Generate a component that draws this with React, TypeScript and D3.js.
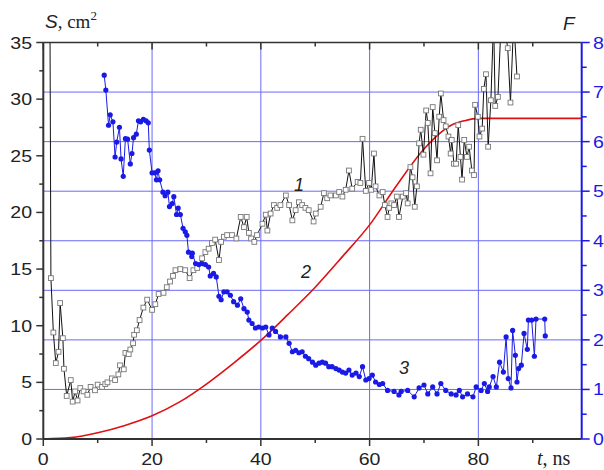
import * as d3 from "d3";

// curve 1: S (cm^2), open squares
const t1 = [
  1.2, 1.4, 1.85, 2.3, 2.8, 3.1, 3.6, 3.8, 4.3, 5.05, 5.4, 5.85, 6.3, 6.8, 7.4, 8.1, 8.7, 9.5, 10.0, 10.8,
  11.4, 11.8, 12.6, 13.2, 13.8, 14.1, 14.8, 15.1, 15.7, 16.0, 16.5, 16.7, 17.2, 17.7, 18.4, 19.1, 20.0, 20.6,
  21.2, 22.1, 22.7, 23.3, 23.85, 24.3, 25.2, 26.1, 26.9, 27.6, 28.3, 29.2, 29.8, 30.4, 31.0, 31.6, 32.3, 32.7,
  33.2, 33.8, 34.7, 35.5, 36.3, 36.9, 37.4, 37.8, 38.2, 38.8, 39.3, 40.3, 40.9, 41.2, 41.8, 42.4, 43.0, 43.6,
  44.6, 45.2, 45.8, 46.4, 47.0, 47.6, 48.2, 48.8, 49.7, 50.1, 51.0, 51.6, 52.2, 52.8, 53.8, 54.4, 55.0, 55.6,
  56.2, 56.8, 57.8, 58.3, 58.7, 59.3, 59.9, 60.3, 60.8, 61.1, 61.8, 62.4, 62.8, 63.3, 63.6, 64.0, 64.5, 65.0,
  65.4, 66.1, 66.7, 67.0, 67.5, 67.9, 68.3, 68.7, 69.1, 69.4, 69.9, 70.4, 70.7, 71.2, 71.6, 72.0, 72.4, 72.8,
  73.1, 73.6, 74.0, 74.5, 74.9, 75.1, 75.5, 75.9, 76.3, 76.7, 77.0, 77.4, 77.9, 78.3, 78.8, 79.2, 79.4, 79.9,
  80.2, 80.7, 81.0, 81.4, 81.8, 82.3, 82.8, 83.1, 83.6, 84.2, 84.8, 85.4, 85.9, 86.5, 87.1,
];
const s1 = [
  40, 14.2, 9.4, 6.7, 7.7, 12.0, 8.9, 6.2, 3.8, 5.2, 3.3, 4.2, 3.4, 4.5, 4.2, 3.9, 4.6, 4.3, 4.8, 4.6,
  4.85, 5.0, 5.35, 5.2, 5.7, 6.5, 6.15, 7.6, 7.5, 7.9, 8.45, 9.2, 9.6, 10.5, 11.6, 12.3, 11.4, 11.9,
  12.8, 12.9, 13.4, 13.9, 14.4, 14.9, 15.0, 14.9, 14.2, 14.9, 15.1, 15.95, 16.5, 16.8, 17.3, 17.6, 15.8, 17.4,
  17.85, 18.0, 18.0, 17.7, 19.6, 18.7, 19.6, 18.2, 17.7, 17.4, 18.0, 19.0, 19.8, 18.4, 19.9, 20.65, 20.4, 20.65,
  21.5, 20.65, 19.3, 20.2, 20.9, 20.65, 20.4, 20.2, 19.2, 19.9, 20.5, 21.7, 21.25, 21.5, 21.5, 21.8, 21.4, 22.0,
  23.7, 22.1, 22.7, 22.6, 26.5, 21.9, 22.6, 22.0, 25.2, 22.3, 21.5, 21.8, 20.65, 19.6, 20.4, 20.8, 20.65, 21.4,
  19.6, 21.4, 21.7, 20.8, 24.0, 23.1, 20.5, 22.3, 26.1, 27.3, 25.1, 29.0, 27.9, 23.45, 29.3, 27.0, 24.6, 28.45,
  30.5, 28.15, 27.6, 26.7, 25.2, 26.4, 24.3, 24.3, 27.7, 24.9, 22.9, 26.4, 24.9, 25.8, 23.7, 23.3, 29.5, 28.45,
  26.7, 27.4, 30.9, 32.2, 25.8, 29.9, 37, 29.4, 30.2, 37, 36.5, 34.5, 29.7, 37, 32.0,
];

// curve 2: S (cm^2), smooth red line
const t2 = [0, 5, 10, 15, 20, 25, 30, 35, 40, 45, 50, 55, 60, 65, 70, 75, 77.5, 80, 85, 90, 95, 99];
const s2 = [0, 0.12, 0.55, 1.2, 2.05, 3.25, 4.85, 6.7, 8.7, 11.0, 13.4, 16.1, 18.9, 22.4, 25.6, 27.7, 28.1, 28.3, 28.3, 28.3, 28.3, 28.3];

// curve 3: F, filled blue circles
const t3 = [
  11.2, 11.5, 12.0, 12.3, 12.8, 13.2, 13.5, 14.0, 14.3, 14.7, 15.1, 15.5, 16.0, 16.3, 16.6, 17.1, 17.5, 17.9,
  18.4, 18.9, 19.3, 19.5, 20.0, 20.5, 20.8, 21.1, 21.4, 22.0, 22.4, 22.9, 23.2, 23.7, 24.0, 24.5, 24.8, 25.2,
  25.7, 26.1, 26.4, 26.7, 27.3, 27.4, 28.0, 28.6, 29.2, 29.8, 30.4, 30.7, 31.3, 31.8, 32.3, 32.7, 33.2, 33.8,
  34.4, 35.0, 35.7, 36.3, 36.9, 37.5, 37.8, 38.4, 39.0, 39.6, 40.3, 40.9, 41.5, 42.1, 42.7, 43.6, 44.6, 45.2,
  45.8, 46.4, 47.0, 47.6, 48.2, 48.8, 49.5, 50.1, 50.7, 51.3, 51.9, 52.5, 53.1, 53.8, 54.4, 55.0, 55.6, 56.2,
  56.8, 57.5, 58.1, 58.7, 59.3, 59.9, 60.5, 61.1, 61.8, 62.4, 63.3, 64.5, 65.4, 65.8, 67.0, 68.2, 69.1, 70.0,
  70.7, 71.6, 72.4, 73.1, 74.0, 75.0, 75.9, 76.5, 77.1, 78.0, 79.0, 79.6, 80.5, 81.1, 81.7, 82.0, 82.7, 83.3,
  83.9, 84.6, 85.1, 85.5, 86.0, 86.3, 86.8, 87.1, 87.4, 87.9, 88.4, 89.0, 89.2, 89.8, 90.3, 90.6, 92.2, 92.3,
];
const f3 = [
  7.34, 7.04, 6.33, 6.54, 6.40, 5.69, 5.99, 6.29, 5.65, 5.30, 6.06, 6.05, 5.55, 5.76, 6.08, 6.15, 6.42, 6.40,
  6.45, 6.42, 6.38, 5.83, 5.37, 5.37, 5.23, 5.41, 5.23, 4.98, 4.91, 4.98, 4.69, 4.75, 4.89, 4.53, 4.66, 4.53,
  4.25, 4.18, 4.11, 3.77, 3.68, 3.75, 3.54, 3.52, 3.54, 3.52, 3.47, 3.29, 3.34, 3.27, 2.88, 2.81, 2.97, 2.97,
  2.90, 2.77, 2.70, 2.83, 2.63, 2.56, 2.40, 2.33, 2.24, 2.26, 2.24, 2.26, 2.10, 2.24, 2.17, 2.06, 2.06, 1.93,
  1.76, 1.79, 1.74, 1.76, 1.67, 1.62, 1.55, 1.49, 1.53, 1.55, 1.53, 1.46, 1.46, 1.42, 1.39, 1.35, 1.33, 1.39,
  1.29, 1.33, 1.26, 1.46, 1.19, 1.22, 1.29, 1.15, 1.10, 1.12, 0.98, 0.96, 0.89, 0.96, 0.98, 0.85, 1.03, 1.09,
  0.91, 1.05, 0.91, 1.12, 0.98, 0.91, 0.89, 0.98, 0.85, 0.91, 0.85, 1.05, 0.98, 1.12, 0.96, 1.05, 1.26, 1.05,
  1.55, 1.35, 2.06, 1.22, 1.03, 2.19, 1.69, 1.15, 1.42, 1.49, 2.13, 1.81, 2.40, 2.40, 1.67, 2.42, 2.42, 2.08,
];

const xMajor = [0, 20, 40, 60, 80];
const xMinor = [10, 30, 50, 70, 90];
const sMajor = [0, 5, 10, 15, 20, 25, 30, 35];
const fMajor = [0, 1, 2, 3, 4, 5, 6, 7, 8];
const fGrid = [1, 2, 3, 4, 5, 6, 7];
const xGrid = [20, 40, 60, 80];

const W = 604;
const H = 470;
const margin = { left: 43.3, right: 22.3, top: 42.5, bottom: 31 };
const SANS = "'Liberation Sans', Arial, sans-serif";
const SERIF = "'Liberation Serif', 'Times New Roman', serif";
const BLUE = "#1a1ae6";
const GRID = "#6a6af5";
const STRETCH = 1.15;

function Label({ x, y, anchor, color, children }: any) {
  return (
    <g transform={`translate(${x},${y}) scale(${STRETCH},1)`}>
      <text textAnchor={anchor} fontFamily={SANS} fontSize={17} fill={color}>
        {children}
      </text>
    </g>
  );
}

export default function App() {
  const x0 = margin.left;
  const x1 = W - margin.right;
  const y0 = H - margin.bottom;
  const y1 = margin.top;

  const xScale = d3.scaleLinear().domain([0, 99]).range([x0, x1]);
  const sScale = d3.scaleLinear().domain([0, 35]).range([y0, y1]);
  const fScale = d3.scaleLinear().domain([0, 8]).range([y0, y1]);

  const data1 = t1.map((t, i) => ({ t, v: s1[i] }));
  const data2 = t2.map((t, i) => ({ t, v: s2[i] }));
  const data3 = t3.map((t, i) => ({ t, v: f3[i] }));

  const line1 = d3
    .line<any>()
    .x((d) => xScale(d.t))
    .y((d) => sScale(d.v));
  const line2 = d3
    .line<any>()
    .x((d) => xScale(d.t))
    .y((d) => sScale(d.v))
    .curve(d3.curveMonotoneX);
  const line3 = d3
    .line<any>()
    .x((d) => xScale(d.t))
    .y((d) => fScale(d.v));

  const sMinor = sMajor.slice(0, -1).map((v) => v + 2.5);
  const fMinor = fMajor.slice(0, -1).map((v) => v + 0.5);

  return (
    <svg
      width={W}
      height={H}
      viewBox={`0 0 ${W} ${H}`}
      style={{ position: "absolute", left: 0, top: 0, background: "#fff" }}
    >
      <defs>
        <clipPath id="plot">
          <rect x={x0} y={y1} width={x1 - x0} height={y0 - y1} />
        </clipPath>
      </defs>

      {/* grid */}
      <g stroke={GRID} strokeWidth={1}>
        {xGrid.map((v) => (
          <line key={"gx" + v} x1={xScale(v)} x2={xScale(v)} y1={y1} y2={y0} />
        ))}
        {fGrid.map((v) => (
          <line key={"gy" + v} x1={x0} x2={x1} y1={fScale(v)} y2={fScale(v)} />
        ))}
      </g>

      <g clipPath="url(#plot)">
        <path d={line2(data2) ?? ""} fill="none" stroke="#e01010" strokeWidth={1.6} />
        <path d={line1(data1) ?? ""} fill="none" stroke="#111" strokeWidth={1} />
        {data1.map((d, i) => (
          <rect
            key={"sq" + i}
            x={xScale(d.t) - 2.4}
            y={sScale(d.v) - 2.4}
            width={4.8}
            height={4.8}
            fill="#fff"
            stroke="#777"
            strokeWidth={0.9}
          />
        ))}
        <path d={line3(data3) ?? ""} fill="none" stroke={BLUE} strokeWidth={1} />
        {data3.map((d, i) => (
          <circle key={"c" + i} cx={xScale(d.t)} cy={fScale(d.v)} r={2.6} fill={BLUE} />
        ))}
      </g>

      {/* top axis */}
      <line x1={x0} x2={x1} y1={y1} y2={y1} stroke="#333" strokeWidth={1.5} />
      {xMajor.map((v) => (
        <line key={"tt" + v} x1={xScale(v)} x2={xScale(v)} y1={y1} y2={y1 + 7} stroke="#333" strokeWidth={1.5} />
      ))}
      {xMinor.map((v) => (
        <line key={"tm" + v} x1={xScale(v)} x2={xScale(v)} y1={y1} y2={y1 + 4} stroke="#333" strokeWidth={1.5} />
      ))}

      {/* bottom axis */}
      <line x1={x0} x2={x1} y1={y0} y2={y0} stroke="#333" strokeWidth={1.8} />
      {xMajor.map((v) => (
        <g key={"bx" + v}>
          <line x1={xScale(v)} x2={xScale(v)} y1={y0} y2={y0 + 7} stroke="#333" strokeWidth={1.5} />
          <Label x={xScale(v)} y={465} anchor="middle" color="#222">
            {v}
          </Label>
        </g>
      ))}
      {xMinor.map((v) => (
        <line key={"bm" + v} x1={xScale(v)} x2={xScale(v)} y1={y0} y2={y0 + 4} stroke="#333" strokeWidth={1.5} />
      ))}

      {/* left axis */}
      <line x1={x0} x2={x0} y1={y1} y2={y0} stroke="#333" strokeWidth={2} />
      {sMajor.map((v) => (
        <g key={"ly" + v}>
          <line x1={x0 - 7} x2={x0} y1={sScale(v)} y2={sScale(v)} stroke="#333" strokeWidth={1.5} />
          <Label x={32} y={sScale(v) + 6} anchor="end" color="#222">
            {v}
          </Label>
        </g>
      ))}
      {sMinor.map((v) => (
        <line key={"lm" + v} x1={x0 - 4} x2={x0} y1={sScale(v)} y2={sScale(v)} stroke="#333" strokeWidth={1.5} />
      ))}

      {/* right axis */}
      <line x1={x1} x2={x1} y1={y1} y2={y0} stroke={BLUE} strokeWidth={2} />
      {fMajor.map((v) => (
        <g key={"ry" + v}>
          <line x1={x1} x2={x1 + 8} y1={fScale(v)} y2={fScale(v)} stroke={BLUE} strokeWidth={1.5} />
          <Label x={593} y={fScale(v) + 6} anchor="start" color={BLUE}>
            {v}
          </Label>
        </g>
      ))}
      {fMinor.map((v) => (
        <line key={"rm" + v} x1={x1} x2={x1 + 5} y1={fScale(v)} y2={fScale(v)} stroke={BLUE} strokeWidth={1.5} />
      ))}

      {/* titles */}
      <text x={45} y={28} fontSize={19} fill="#222">
        <tspan fontFamily={SANS} fontStyle="italic">S</tspan>
        <tspan fontFamily={SERIF}>, cm</tspan>
        <tspan fontFamily={SERIF} fontSize={13} dy={-8}>2</tspan>
      </text>
      <text x={563} y={30} fontSize={19} fontFamily={SANS} fontStyle="italic" fill="#222">
        F
      </text>
      <text x={537} y={465} fontSize={20} fontFamily={SERIF} fill="#222">
        <tspan fontStyle="italic">t</tspan>
        <tspan>, ns</tspan>
      </text>

      {/* curve numbers */}
      <g fontFamily={SANS} fontStyle="italic" fontSize={18} fill="#222" textAnchor="middle">
        <text x={299} y={191}>1</text>
        <text x={306} y={278}>2</text>
        <text x={404} y={374}>3</text>
      </g>
    </svg>
  );
}
